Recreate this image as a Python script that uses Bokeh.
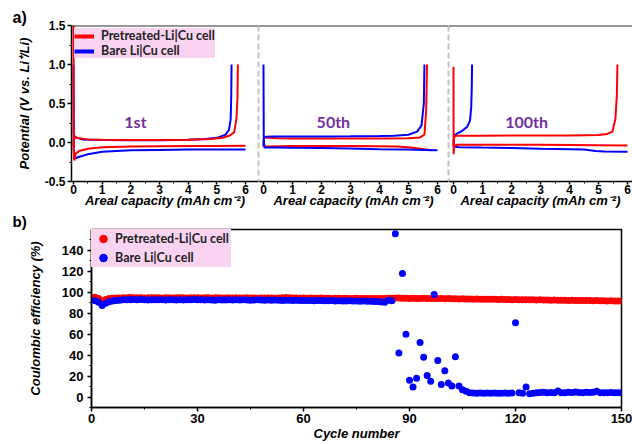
from bokeh.plotting import figure
from bokeh.layouts import column, row
from bokeh.models import (Span, Label, Legend, LegendItem, FixedTicker, Title,
                          LinearAxis, CustomJSTickFormatter)
from bokeh.embed import file_html
from bokeh.resources import INLINE

NAN = float("nan")

# ---------------- data: voltage profiles (capacity mAh cm-2, potential V) -------------
# 1st cycle
c1_red_plate_cap = [0, 0.01, 0.03, 0.08, 0.2, 0.5, 1, 2, 3, 4, 5, 6]
c1_red_plate_v = [1.6, -0.1, -0.23, -0.14, -0.11, -0.08, -0.06, -0.05, -0.048, -0.046, -0.044, -0.043]
c1_red_strip_cap = [0, 0.02, 0.1, 0.5, 1, 2, 3, 4, 4.8, 5.2, 5.45, 5.6, 5.68, 5.72, 5.73]
c1_red_strip_v = [-0.05, 0.09, 0.06, 0.04, 0.035, 0.033, 0.033, 0.035, 0.045, 0.06, 0.09, 0.13, 0.3, 0.6, 1.0]
c1_blue_plate_cap = [0, 0.01, 0.03, 0.15, 0.5, 1, 2, 3, 4, 5, 6]
c1_blue_plate_v = [1.0, -0.1, -0.21, -0.19, -0.15, -0.12, -0.10, -0.095, -0.09, -0.09, -0.09]
c1_blue_strip_cap = [0, 0.05, 0.3, 1, 2, 3, 4, 4.6, 5.0, 5.3, 5.42, 5.48, 5.5, 5.51]
c1_blue_strip_v = [0.02, 0.07, 0.04, 0.032, 0.03, 0.03, 0.035, 0.045, 0.06, 0.1, 0.16, 0.3, 0.6, 1.0]

# 50th cycle
c50_red_plate_cap = [0, 0.1, 1, 2, 3, 4, 4.6, 5.0, 5.3, 5.6, 5.8]
c50_red_plate_v = [-0.07, -0.05, -0.046, -0.046, -0.046, -0.047, -0.052, -0.06, -0.075, -0.09, -0.1]
c50_red_strip_cap = [0, 0.02, 0.1, 0.5, 1, 2, 3, 4, 5, 5.4, 5.55, 5.61, 5.64]
c50_red_strip_v = [-0.05, 0.07, 0.06, 0.055, 0.052, 0.05, 0.05, 0.05, 0.055, 0.065, 0.1, 0.4, 1.0]
c50_blue_plate_cap = [0, 0.01, 0.05, 0.5, 1, 2, 3, 4, 5, 5.5, 6]
c50_blue_plate_v = [1.0, 0.0, -0.065, -0.065, -0.068, -0.072, -0.078, -0.085, -0.09, -0.095, -0.1]
c50_blue_strip_cap = [0, 0.02, 0.1, 0.3, 1, 2, 3, 4, 4.5, 5.0, 5.3, 5.45, 5.53, 5.55]
c50_blue_strip_v = [-0.05, 0.06, 0.075, 0.078, 0.078, 0.078, 0.08, 0.083, 0.088, 0.1, 0.14, 0.22, 0.5, 1.0]

# 100th cycle
c100_red_plate_cap = [0, 0.005, 0.02, 0.1, 1, 2, 3, 4, 5, 6]
c100_red_plate_v = [0.97, -0.15, -0.05, -0.03, -0.03, -0.03, -0.03, -0.033, -0.035, -0.04]
c100_red_strip_cap = [0, 0.02, 0.1, 1, 2, 3, 4, 5, 5.3, 5.48, 5.58, 5.63, 5.65]
c100_red_strip_v = [-0.03, 0.07, 0.085, 0.088, 0.09, 0.09, 0.09, 0.095, 0.11, 0.14, 0.3, 0.6, 1.0]
c100_blue_plate_cap = [0, 0.02, 0.2, 1, 2, 3, 4, 4.5, 4.9, 5.2, 6]
c100_blue_plate_v = [-0.03, -0.05, -0.06, -0.065, -0.07, -0.08, -0.085, -0.09, -0.11, -0.115, -0.12]
c100_blue_strip_cap = [0, 0.02, 0.1, 0.3, 0.47, 0.57, 0.61, 0.63, 0.64]
c100_blue_strip_v = [-0.05, 0.08, 0.11, 0.15, 0.2, 0.28, 0.45, 0.7, 1.0]

# ---------------- data: coulombic efficiency (%) -------------
cycles = list(range(1, 151))
ce_pretreated = [
    95.2, 94.0, 92.0, 93.2, 94.0, 94.3, 94.5, 94.6, 94.8, 94.7,
    95.0, 94.8, 94.9, 94.7, 94.6, 94.8, 94.9, 94.7, 94.8, 94.6,
    94.7, 94.8, 94.6, 94.7, 94.9, 94.8, 94.6, 94.7, 94.8, 94.7,
    94.6, 94.8, 94.7, 94.6, 94.7, 94.8, 94.6, 94.5, 94.7, 94.6,
    94.7, 94.5, 94.6, 94.7, 94.5, 94.6, 94.4, 94.6, 94.5, 94.6,
    94.5, 94.4, 94.6, 94.8, 95.0, 94.9, 94.6, 94.5, 94.4, 94.5,
    94.4, 94.5, 94.3, 94.4, 94.5, 94.3, 94.4, 94.2, 94.3, 94.4,
    94.2, 94.3, 94.1, 94.2, 94.3, 94.1, 94.2, 94.0, 94.1, 94.2,
    94.0, 94.1, 94.2, 94.3, 94.4, 94.5, 94.6, 94.4, 94.3, 94.2,
    94.3, 94.2, 94.1, 94.3, 94.2, 94.0, 94.1, 94.2, 94.0, 93.9,
    94.0, 93.8, 93.9, 93.7, 93.8, 93.6, 93.7, 93.5, 93.6, 93.4,
    93.5, 93.4, 93.3, 93.4, 93.2, 93.3, 93.1, 93.2, 93.0, 93.1,
    93.0, 92.9, 93.0, 92.8, 92.9, 92.7, 92.8, 92.6, 92.7, 92.5,
    92.6, 92.5, 92.4, 92.5, 92.3, 92.4, 92.2, 92.3, 92.1, 92.2,
    92.1, 92.0, 92.1, 91.9, 92.0, 91.8, 91.9, 91.8, 91.7, 91.8,
]
ce_bare = [
    92.0, 90.5, 87.5, 89.5, 91.0, 91.8, 92.3, 92.5, 92.8, 93.0,
    93.0, 93.2, 92.9, 93.1, 92.8, 92.6, 92.9, 93.0, 92.8, 92.9,
    92.7, 92.9, 92.8, 92.6, 92.9, 92.7, 92.8, 92.9, 93.1, 92.8,
    92.9, 92.6, 92.8, 92.7, 92.5, 92.8, 92.7, 92.6, 92.8, 92.7,
    92.8, 92.6, 92.9, 92.7, 92.5, 92.6, 92.8, 92.7, 92.5, 92.6,
    92.4, 92.6, 92.5, 92.3, 92.5, 92.4, 92.2, 92.4, 92.3, 92.1,
    92.3, 92.2, 92.0, 92.1, 92.2, 92.0, 91.9, 92.1, 91.8, 92.0,
    91.8, 91.7, 91.9, 91.6, 91.8, 91.5, 91.6, 91.4, 91.5, 91.3,
    91.2, 90.8, 90.5, 92.5, 92.0, 156.0, 42.0, 118.0, 60.0, 16.0,
    9.5, 18.0, 52.0, 38.0, 20.5, 15.0, 98.0, 35.0, 12.0, 25.0,
    13.5, 10.5, 38.5, 10.5, 7.0, 5.5, 4.0, 3.8, 3.6, 3.8,
    3.7, 3.9, 3.6, 3.8, 3.7, 3.5, 3.8, 3.6, 3.9, 71.0,
    4.2, 3.6, 9.5, 3.2, 3.6, 4.0, 4.3, 4.5, 4.2, 4.4,
    4.1, 5.8, 4.0, 4.2, 4.6, 4.4, 4.8, 4.3, 4.1, 4.5,
    4.3, 4.6, 5.6, 4.2, 4.0, 4.1, 4.3, 4.2, 4.0, 4.2,
]

cycle_labels = ["1st", "50th", "100th"]
series_names = ["Pretreated-Li|Cu cell", "Bare Li|Cu cell"]
panel_tags = ["a)", "b)"]
potential_ticks = [-0.5, 0.0, 0.5, 1.0, 1.5]

RED = "#ff0000"
BLUE = "#0000ff"
PURPLE = "#7030a0"
PINK = "#f9d3f0"
TICK_FONT = "Liberation Sans"
LEG_FONT = "Lato"
TOP_H = 210


def style_axes(p, tick_size="12px"):
    for ax in p.axis:
        ax.axis_line_color = "black"
        ax.axis_line_width = 1.5
        ax.major_tick_line_color = "black"
        ax.minor_tick_line_color = "black"
        ax.major_tick_line_width = 1.5
        ax.major_tick_out = 4
        ax.major_tick_in = 0
        ax.minor_tick_out = 2
        ax.minor_tick_in = 0
        ax.major_label_text_font = TICK_FONT
        ax.major_label_text_font_style = "bold"
        ax.major_label_text_font_size = tick_size
        ax.major_label_text_color = "black"
        ax.axis_label_text_font = TICK_FONT
        ax.axis_label_text_font_style = "bold italic"
        ax.axis_label_text_font_size = "13px"
        ax.axis_label_text_color = "black"
    p.xgrid.visible = False
    p.ygrid.visible = False


def top_panel(width, xr, left, show_y, data, label_text, label_x, blue_on_top):
    p = figure(width=width, height=TOP_H, x_range=xr, y_range=(-0.5, 1.5),
               min_border_left=left, min_border_right=0, min_border_top=25,
               min_border_bottom=TOP_H - 181, output_backend="svg", toolbar_location=None,
               y_axis_location=None)
    p.outline_line_color = None
    p.background_fill_color = "white"
    p.xaxis.ticker = FixedTicker(ticks=[0, 1, 2, 3, 4, 5, 6],
                                 minor_ticks=[0.5, 1.5, 2.5, 3.5, 4.5, 5.5])
    p.xaxis.axis_label = "Areal capacity (mAh cm\u207b\u00b2)"
    if show_y:
        yax = LinearAxis(
            ticker=FixedTicker(ticks=potential_ticks,
                               minor_ticks=[-0.25, 0.25, 0.75, 1.25]),
            formatter=CustomJSTickFormatter(code="return tick.toFixed(1);"),
            axis_label="Potential (V vs. Li\u207a/Li)")
        p.add_layout(yax, "left")
    style_axes(p)
    p.xaxis.major_tick_out = 3
    p.xaxis.minor_tick_out = 2
    p.xaxis.major_label_standoff = 0
    p.xaxis.axis_label_standoff = -4
    if show_y:
        yax.axis_label_standoff = 10
        yax.major_label_standoff = 2
    (rp_c, rp_v, rs_c, rs_v, bp_c, bp_v, bs_c, bs_v) = data
    order = ["r", "b"] if blue_on_top else ["b", "r"]
    for o in order:
        if o == "r":
            p.line(rp_c, rp_v, color=RED, line_width=2)
            p.line(rs_c, rs_v, color=RED, line_width=2)
        else:
            p.line(bp_c, bp_v, color=BLUE, line_width=2)
            p.line(bs_c, bs_v, color=BLUE, line_width=2)
    p.add_layout(Span(location=1.5, dimension="width", line_color="#333333", line_width=2))
    p.add_layout(Label(x=label_x, y=0.27, text=label_text, text_color=PURPLE,
                       text_font=LEG_FONT, text_font_style="bold", text_font_size="16px",
                       text_align="center", text_baseline="middle"))
    return p


p1 = top_panel(258, (-0.07, 6.45), 71, True,
               (c1_red_plate_cap, c1_red_plate_v, c1_red_strip_cap, c1_red_strip_v,
                c1_blue_plate_cap, c1_blue_plate_v, c1_blue_strip_cap, c1_blue_strip_v),
               cycle_labels[0], 2.16, False)
p2 = top_panel(190, (-0.172, 6.38), 0, False,
               (c50_red_plate_cap, c50_red_plate_v, c50_red_strip_cap, c50_red_strip_v,
                c50_blue_plate_cap, c50_blue_plate_v, c50_blue_strip_cap, c50_blue_strip_v),
               cycle_labels[1], 2.41, True)
p3 = top_panel(184, (-0.172, 6.17), 0, False,
               (c100_red_plate_cap, c100_red_plate_v, c100_red_strip_cap, c100_red_strip_v,
                c100_blue_plate_cap, c100_blue_plate_v, c100_blue_strip_cap, c100_blue_strip_v),
               cycle_labels[2], 2.52, False)

sep = dict(dimension="height", line_color="#888888", line_width=1.5, line_dash="6 3")
p1.add_layout(Span(location=6.45, **sep))
p2.add_layout(Span(location=-0.172, **sep))
p2.add_layout(Span(location=6.38, **sep))
p3.add_layout(Span(location=-0.172, **sep))

# legend for top panel (legend-only renderers hold a single NaN point)
lr = p1.line([NAN], [NAN], color=RED, line_width=4)
lb = p1.line([NAN], [NAN], color=BLUE, line_width=4)
leg1 = Legend(items=[LegendItem(label=series_names[0], renderers=[lr]),
                     LegendItem(label=series_names[1], renderers=[lb])],
              location="top_left", margin=3, padding=5, spacing=0,
              glyph_width=20, glyph_height=14, label_height=14, label_width=112,
              label_standoff=7, background_fill_color=PINK, background_fill_alpha=1.0,
              border_line_color=None, label_text_font=LEG_FONT,
              label_text_font_style="bold", label_text_font_size="12.5px",
              label_text_color="#222222")
p1.add_layout(leg1)
p1.add_layout(Title(text=panel_tags[0], align="left", offset=-59, standoff=0,
                    text_font=TICK_FONT, text_font_style="bold", text_font_size="16px",
                    text_color="black"), "above")

# ---------------- bottom panel -------------
P4_H = 444 - TOP_H
p4 = figure(width=632, height=P4_H, x_range=(0, 150), y_range=(-10, 160),
            min_border_left=91, min_border_right=11, min_border_top=227 - TOP_H,
            min_border_bottom=P4_H - (227 - TOP_H) - 180, output_backend="svg",
            toolbar_location=None)
p4.outline_line_color = "black"
p4.outline_line_width = 1.5
p4.xaxis.ticker = FixedTicker(ticks=[0, 30, 60, 90, 120, 150],
                              minor_ticks=[15, 45, 75, 105, 135])
p4.yaxis.ticker = FixedTicker(ticks=[0, 20, 40, 60, 80, 100, 120, 140],
                              minor_ticks=[-10, 10, 30, 50, 70, 90, 110, 130, 150])
p4.xaxis.axis_label = "Cycle number"
p4.yaxis.axis_label = "Coulombic efficiency (%)"
style_axes(p4, tick_size="13px")
p4.xaxis.major_label_standoff = 2
p4.xaxis.axis_label_standoff = 0
p4.yaxis.major_label_standoff = 4
p4.yaxis.axis_label_standoff = 16

sr = p4.scatter(cycles, ce_pretreated, size=7, color=RED, line_width=0)
sb = p4.scatter(cycles, ce_bare, size=7, color=BLUE, line_width=0)
dr = p4.scatter([NAN], [NAN], size=10, color=RED)
db = p4.scatter([NAN], [NAN], size=10, color=BLUE)
leg2 = Legend(items=[LegendItem(label=series_names[0], renderers=[dr]),
                     LegendItem(label=series_names[1], renderers=[db])],
              location="top_left", margin=0, padding=1, spacing=0,
              glyph_width=24, glyph_height=19, label_height=14, label_width=116,
              label_standoff=0, background_fill_color=PINK, background_fill_alpha=1.0,
              border_line_color=None, label_text_font=LEG_FONT,
              label_text_font_style="bold", label_text_font_size="12.5px",
              label_text_color="#222222")
p4.add_layout(leg2)
p4.add_layout(Title(text=panel_tags[1], align="left", offset=-79, standoff=0,
                    text_font=TICK_FONT, text_font_style="bold", text_font_size="15px",
                    text_color="black"), "above")

layout = column(row(p1, p2, p3, spacing=0), p4, spacing=0)
open("out.html", "w").write(file_html(layout, INLINE))
